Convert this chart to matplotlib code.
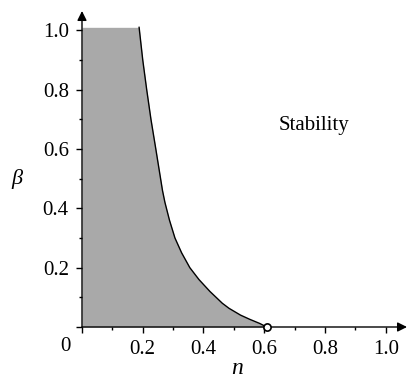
import matplotlib
matplotlib.use('Agg')
import matplotlib.pyplot as plt
import numpy as np

plt.rcParams.update({'font.size': 15, 'font.family': 'Liberation Serif'})

# Stability boundary beta(n) from top to bottom
beta_b = [1.01, 0.90, 0.80, 0.70, 0.60, 0.53, 0.46, 0.42, 0.36, 0.30, 0.25,
          0.20, 0.16, 0.12, 0.08, 0.063, 0.04, 0.026, 0.012, 0.0]
n_b = [0.188, 0.200, 0.213, 0.227, 0.243, 0.254, 0.265, 0.273, 0.288, 0.306, 0.328,
       0.355, 0.385, 0.421, 0.462, 0.484, 0.522, 0.552, 0.585, 0.608]
n_crit = 0.608

x_ticks = [0.2, 0.4, 0.6, 0.8, 1.0]
x_labels = ['0.2', '0.4', '0.6', '0.8', '1.0']
y_ticks = [0.0, 0.2, 0.4, 0.6, 0.8, 1.0]
y_labels = ['', '0.2', '0.4', '0.6', '0.8', '1.0']

fig = plt.figure(figsize=(4.07, 3.78), dpi=100)
ax = fig.add_axes([82 / 407, 51 / 378, 325 / 407, 316 / 378])

# Shaded instability region and its boundary
ax.fill_betweenx(beta_b, 0, n_b, color='#a9a9a9', lw=0)
ax.plot(n_b, beta_b, 'k', lw=1.0)
ax.plot([n_crit], [0], 'o', ms=5.2, mfc='white', mec='k', mew=1.2, clip_on=False, zorder=5)

ax.set_xlim(0, 1.07)
ax.set_ylim(0, 1.065)
for s in ax.spines.values():
    s.set_visible(False)

# Axes with arrow heads
ax.annotate('', xy=(1.07, 0), xytext=(0, 0), annotation_clip=False,
            arrowprops=dict(arrowstyle='-|>', color='k', lw=1.0, mutation_scale=14, shrinkA=0, shrinkB=0))
ax.annotate('', xy=(0, 1.065), xytext=(0, 0), annotation_clip=False,
            arrowprops=dict(arrowstyle='-|>', color='k', lw=1.0, mutation_scale=14, shrinkA=0, shrinkB=0))

ax.set_xticks([0.0] + x_ticks)
ax.set_xticklabels([''] + x_labels)
ax.set_yticks(y_ticks)
ax.set_yticklabels(y_labels)
ax.set_xticks(np.arange(0.1, 1.01, 0.2), minor=True)
ax.set_yticks(np.arange(0.1, 1.01, 0.2), minor=True)
ax.tick_params(which='major', direction='out', length=4.5, width=1.0, pad=5)
ax.tick_params(which='minor', direction='out', length=2.3, width=1.0)

ax.text(-0.055, -0.065, '0', ha='center', va='center')
ax.text(0.51, -0.158, 'n', ha='center', va='baseline', style='italic', fontsize=17)
ax.text(-0.215, 0.498, 'β', ha='center', va='center', style='italic', fontsize=16)
ax.text(0.763, 0.68, 'Stability', ha='center', va='center')

fig.savefig('out.png', dpi=100)
